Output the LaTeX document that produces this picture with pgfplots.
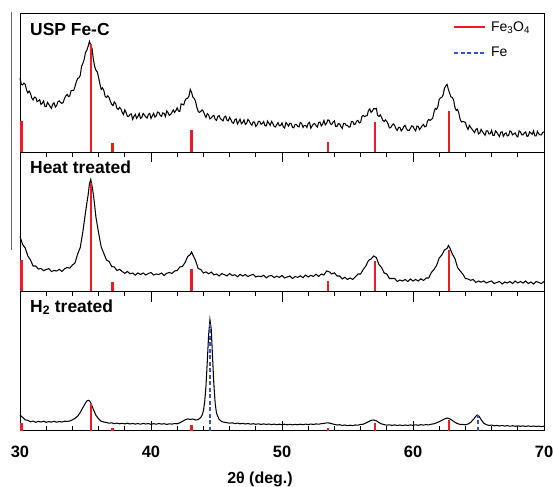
\documentclass[border=0pt]{standalone}
\usepackage{fontspec}
\setmainfont{Liberation Sans}
\usepackage{pgfplots}
\pgfplotsset{compat=1.18}
\definecolor{fered}{RGB}{236,28,36}
\definecolor{feblue}{RGB}{55,80,205}
\pgfplotsset{xrdpanel/.style={scale only axis, width=524bp, height=139.1bp,
  xmin=30, xmax=70, ymin=0, ymax=139.1, ytick=\empty,
  xtick={30,40,50,60,70}, minor x tick num=4, tick align=inside,
  major tick length=10bp, minor tick length=4.5bp,
  axis line style={line width=1pt}, clip=false,
  major tick style={black, line width=1pt}, minor tick style={black, line width=0.9pt},
  /pgf/number format/assume math mode=true,
  ticklabel style={font=\bfseries\fontsize{16.5}{16.5}\selectfont},
  legend image code/.code={\draw[##1] (0bp,0bp) -- (31bp,0bp);}}}
\begin{document}
\begin{tikzpicture}
\path[use as bounding box] (-20bp,-56.3bp) rectangle (534bp,430.6bp);
\draw[black!60, line width=0.8bp] (-9bp,180.6bp) -- (-9bp,418.6bp);
% ---------- Panel 1 ----------
\begin{axis}[xrdpanel, at={(0bp,278.2bp)}, anchor=south west, xtick=\empty,
  legend style={draw=none, fill=none, at={(rel axis cs:0.826,0.955)}, anchor=north west,
    font=\fontsize{14}{14}\selectfont, row sep=10bp, column sep=3bp, inner sep=0pt}, legend cell align=left]
\addplot[black, line width=1.05pt, forget plot] coordinates {
(30.0,74) (30.1,68.3) (30.2,67.5) (30.3,69.3) (30.4,68) (30.5,62.3) (30.6,59.5) (30.7,61.3) (30.8,59) (30.9,54.3)
(31.0,52.5) (31.1,55.3) (31.2,55) (31.3,50.8) (31.4,51.5) (31.5,52.8) (31.6,48) (31.7,49.3) (31.8,51.5) (31.9,45.8)
(32.0,46) (32.1,50) (32.2,48) (32.3,46) (32.4,44) (32.5,48.3) (32.6,49.5) (32.7,45.3) (32.8,47) (32.9,50.8)
(33.0,51.5) (33.1,49.8) (33.2,49) (33.3,50) (33.4,54) (33.5,56.5) (33.6,58) (33.7,55.8) (33.8,56.5) (33.9,61.8)
(34.0,62) (34.1,62) (34.2,66) (34.3,70.5) (34.4,74) (34.5,74.5) (34.6,77) (34.7,86) (34.8,89) (34.9,93)
(35.0,100) (35.1,102) (35.2,106) (35.3,111) (35.4,107) (35.5,104) (35.6,93) (35.7,86) (35.8,82) (35.9,80.5)
(36.0,75) (36.1,68.5) (36.2,63) (36.3,64.5) (36.4,62) (36.5,56) (36.6,55) (36.7,56.5) (36.8,55) (36.9,51)
(37.0,48) (37.1,46.8) (37.2,50.5) (37.3,48.8) (37.4,44) (37.5,43) (37.6,45) (37.7,43.5) (37.8,40) (37.9,37.8)
(38.0,42.5) (38.1,39.8) (38.2,36) (38.3,36) (38.4,38) (38.5,38.5) (38.6,33) (38.7,36) (38.8,38) (38.9,34)
(39.0,36) (39.1,39) (39.2,34) (39.3,35) (39.4,39) (39.5,37.3) (39.6,35.5) (39.7,34.3) (39.8,38) (39.9,39)
(40.0,34) (40.1,36.5) (40.2,39) (40.3,35.3) (40.4,36.5) (40.5,40.3) (40.6,40) (40.7,37) (40.8,36) (40.9,39.5)
(41.0,39) (41.1,35.8) (41.2,41.5) (41.3,39.8) (41.4,37) (41.5,38) (41.6,40) (41.7,42.5) (41.8,40) (41.9,41.8)
(42.0,44.5) (42.1,41.3) (42.2,41) (42.3,48.5) (42.4,48) (42.5,47.5) (42.6,52) (42.7,54) (42.8,54) (42.9,56.5)
(43.0,63) (43.1,60) (43.2,55) (43.3,54) (43.4,51) (43.5,45) (43.6,41) (43.7,40) (43.8,41) (43.9,42.5)
(44.0,41) (44.1,37.5) (44.2,35) (44.3,38.8) (44.4,37.5) (44.5,33.5) (44.6,34.5) (44.7,36.3) (44.8,37) (44.9,33)
(45.0,32) (45.1,35.9) (45.2,36.8) (45.3,33.7) (45.4,32.6) (45.5,31.5) (45.6,35.4) (45.7,36.3) (45.8,32.2) (45.9,31.6)
(46.0,35) (46.1,32.9) (46.2,29.8) (46.3,29.2) (46.4,32.6) (46.5,33.5) (46.6,28.4) (46.7,30.8) (46.8,33.2) (46.9,28.6)
(47.0,30) (47.1,32.5) (47.2,28) (47.3,29) (47.4,33) (47.5,31.4) (47.6,28.8) (47.7,27.2) (47.8,30.5) (47.9,30.3)
(48.0,26) (48.1,27.5) (48.2,31) (48.3,31) (48.4,28) (48.5,28.9) (48.6,30.8) (48.7,26.7) (48.8,26.5) (48.9,31.3)
(49.0,29) (49.1,27) (49.2,31) (49.3,29) (49.4,26) (49.5,25.4) (49.6,27.8) (49.7,29.7) (49.8,26.6) (49.9,27)
(50.0,29.5) (50.1,25.5) (50.2,24.4) (50.3,29.9) (50.4,28.3) (50.5,26.3) (50.6,29.2) (50.7,28.7) (50.8,25.1) (50.9,24.6)
(51.0,28) (51.1,28) (51.2,26) (51.3,25.5) (51.4,30) (51.5,29) (51.6,25) (51.7,27) (51.8,27) (51.9,25)
(52.0,29) (52.1,30.1) (52.2,24.2) (52.3,26.4) (52.4,28.5) (52.5,28.7) (52.6,26.8) (52.7,25.4) (52.8,30) (52.9,30.3)
(53.0,26.5) (53.1,28.3) (53.2,32) (53.3,27.5) (53.4,29) (53.5,32.5) (53.6,32) (53.7,28.5) (53.8,28) (53.9,30.3)
(54.0,31.5) (54.1,25.8) (54.2,26) (54.3,28.8) (54.4,28.5) (54.5,25.8) (54.6,24) (54.7,29) (54.8,29) (54.9,27)
(55.0,27) (55.1,25.3) (55.2,25.5) (55.3,30.8) (55.4,31) (55.5,27.8) (55.6,28.5) (55.7,31.3) (55.8,32) (55.9,29.5)
(56.0,30) (56.1,36) (56.2,37) (56.3,35.8) (56.4,36.5) (56.5,36.8) (56.6,42) (56.7,43.5) (56.8,40) (56.9,41.5)
(57.0,44) (57.1,43.5) (57.2,44) (57.3,37) (57.4,36) (57.5,37.5) (57.6,35) (57.7,32) (57.8,31) (57.9,32.5)
(58.0,31) (58.1,28.3) (58.2,24.5) (58.3,24.8) (58.4,27) (58.5,28.5) (58.6,27) (58.7,23.5) (58.8,22) (58.9,25)
(59.0,25) (59.1,21.5) (59.2,23) (59.3,26) (59.4,27) (59.5,23.5) (59.6,22) (59.7,22) (59.8,24) (59.9,26.5)
(60.0,26) (60.1,23.3) (60.2,21.5) (60.3,26.3) (60.4,26) (60.5,22.8) (60.6,24.5) (60.7,26.8) (60.8,28) (60.9,25.5)
(61.0,26) (61.1,31) (61.2,33) (61.3,32) (61.4,33) (61.5,34) (61.6,40) (61.7,44) (61.8,43) (61.9,46)
(62.0,53) (62.1,54.5) (62.2,55) (62.3,57.5) (62.4,64) (62.5,66.5) (62.6,68) (62.7,63) (62.8,59) (62.9,55.5)
(63.0,55) (63.1,52.5) (63.2,45) (63.3,42) (63.4,43) (63.5,39) (63.6,33) (63.7,30.5) (63.8,31) (63.9,30.5)
(64.0,30) (64.1,25.5) (64.2,23) (64.3,27) (64.4,25) (64.5,23.3) (64.6,21.5) (64.7,19.8) (64.8,23) (64.9,23.8)
(65.0,18.5) (65.1,19.3) (65.2,23) (65.3,20.9) (65.4,18.8) (65.5,17.2) (65.6,21.6) (65.7,21.5) (65.8,18.4) (65.9,18.7)
(66.0,22) (66.1,17) (66.2,17) (66.3,21.5) (66.4,20) (66.5,17.9) (66.6,15.8) (66.7,20.2) (66.8,20.6) (66.9,16.1)
(67.0,18.5) (67.1,19.5) (67.2,16.5) (67.3,17) (67.4,21.5) (67.5,20.5) (67.6,17.5) (67.7,18.5) (67.8,19.5) (67.9,16.5)
(68.0,15.5) (68.1,21.5) (68.2,20.5) (68.3,17.5) (68.4,17.5) (68.5,19.5) (68.6,20.5) (68.7,16) (68.8,16.5) (68.9,20.5)
(69.0,19.5) (69.1,18) (69.2,21.5) (69.3,16.5) (69.4,16.5) (69.5,21) (69.6,18.5) (69.7,17.5) (69.8,17.5) (69.9,20)
(70.0,20.5)};
\addplot[ycomb, fered, line width=2.4pt, forget plot] coordinates {
(30.1,31) (35.4,108) (37.05,9) (43.1,22.5) (53.5,10) (57.1,30) (62.75,41)};
\addlegendimage{fered, line width=2pt}
\addlegendentry{Fe\textsubscript{3}O\textsubscript{4}}
\addlegendimage{feblue, dash pattern=on 4bp off 2.5bp, line width=2pt}
\addlegendentry{Fe}
\node[anchor=base west, inner sep=0, font=\bfseries\fontsize{17.5}{17.5}\selectfont, xshift=10bp, yshift=-22.5bp] at (rel axis cs:0,1) {USP Fe-C};
\end{axis}
% ---------- Panel 2 ----------
\begin{axis}[xrdpanel, at={(0bp,139.1bp)}, anchor=south west, xtick pos=right, xticklabels={}]
\addplot[black, line width=1.05pt] coordinates {
(30.0,55) (30.2,47) (30.4,43.5) (30.6,35.5) (30.8,31.5) (31.0,25.5) (31.2,25.5) (31.4,22.5) (31.6,23) (31.8,20.8)
(32.0,22) (32.2,22.8) (32.4,20) (32.6,21) (32.8,20.5) (33.0,22.2) (33.2,20) (33.4,22.7) (33.6,24) (33.8,23.3)
(34.0,26.5) (34.2,28.5) (34.4,37.5) (34.6,44) (34.8,60) (35.0,79) (35.1,88) (35.2,96.5) (35.3,107.5) (35.4,112)
(35.5,105.5) (35.6,97) (35.7,86) (35.8,74) (36.0,58.5) (36.2,44.5) (36.4,38) (36.6,31.5) (36.8,30) (37.0,25)
(37.2,24.5) (37.4,21) (37.6,22.2) (37.8,20) (38.0,18.2) (38.2,20) (38.4,17.7) (38.6,18.5) (38.8,16.3) (39.0,18.5)
(39.2,17) (39.4,18.5) (39.6,16.5) (39.8,18) (40.0,19) (40.2,16.5) (40.4,17.5) (40.6,17) (40.8,18.5) (41.0,16)
(41.2,18.2) (41.4,19) (41.6,18) (41.8,20.5) (42.0,21) (42.2,24.5) (42.4,25) (42.6,29) (42.8,35) (43.0,37)
(43.1,39.5) (43.2,36.5) (43.4,31) (43.6,23) (43.8,22) (44.0,18.5) (44.2,19.6) (44.4,17.7) (44.6,19.4) (44.8,16.6)
(45.0,17.5) (45.2,15.5) (45.4,17.9) (45.6,16.8) (45.8,15.6) (46.0,18) (46.2,15.9) (46.4,16.8) (46.6,14.7) (46.8,17.1)
(47.0,15.5) (47.2,17) (47.4,14.9) (47.6,16.3) (47.8,17.1) (48.0,14.5) (48.2,15.4) (48.4,14.8) (48.6,16.2) (48.8,13.6)
(49.0,15.5) (49.2,16) (49.4,13.9) (49.6,15.3) (49.8,14.1) (50.0,16) (50.2,13.5) (50.4,14.5) (50.6,15.5) (50.8,13)
(51.0,15) (51.2,14.1) (51.4,15.7) (51.6,13.8) (51.8,16.4) (52.0,14.5) (52.2,16.2) (52.4,15) (52.6,17.3) (52.8,15)
(53.0,17.5) (53.2,16.5) (53.4,20.5) (53.6,19.8) (53.8,17.5) (54.0,18.7) (54.2,15.5) (54.4,15.5) (54.6,12.5) (54.8,14.2)
(55.0,12) (55.2,13.5) (55.4,12) (55.6,14.7) (55.8,17.5) (56.0,17.5) (56.2,22) (56.4,25.5) (56.6,31) (56.8,32.5)
(57.0,35.5) (57.2,34) (57.4,27) (57.6,24) (57.8,18.5) (58.0,17.5) (58.2,13) (58.4,13) (58.6,13) (58.8,10)
(59.0,11.5) (59.2,10.5) (59.4,12) (59.6,10) (59.8,12.5) (60.0,10.5) (60.2,12) (60.4,10.5) (60.6,12.7) (60.8,11)
(61.0,13.5) (61.2,13.5) (61.4,19) (61.6,22) (61.8,26) (62.0,33.5) (62.2,36.5) (62.4,41.5) (62.6,43) (62.7,46)
(62.8,44) (63.0,37.5) (63.2,33) (63.4,24) (63.6,20.5) (63.8,17.5) (64.0,13) (64.2,12.5) (64.4,11.2) (64.6,12)
(64.8,9) (65.0,10.5) (65.2,9.3) (65.4,10.6) (65.6,8.4) (65.8,9.7) (66.0,10.5) (66.2,8) (66.4,9) (66.6,10)
(66.8,7.5) (67.0,9.5) (67.2,8.5) (67.4,10) (67.6,8) (67.8,10.5) (68.0,8.5) (68.2,10) (68.4,8.5) (68.6,10.5)
(68.8,8) (69.0,9.5) (69.2,7.5) (69.4,10) (69.6,9) (69.8,8) (70.0,10)};
\addplot[ycomb, fered, line width=2.4pt] coordinates {
(30.1,31) (35.4,108) (37.05,9) (43.1,22.5) (53.5,10) (57.1,30) (62.75,41)};
\node[anchor=base west, inner sep=0, font=\bfseries\fontsize{17.5}{17.5}\selectfont, xshift=10bp, yshift=-21.6bp] at (rel axis cs:0,1) {Heat treated};
\end{axis}
% ---------- Panel 3 ----------
\begin{axis}[xrdpanel, at={(0bp,0bp)}, anchor=south west, xtick pos=both, xticklabel pos=lower,
  xticklabel style={anchor=base, yshift=-27bp},
  xlabel={2θ (deg.)}, xlabel style={font=\bfseries\fontsize{16}{16}\selectfont, at={(axis description cs:0.458,0)}, anchor=base, yshift=-53bp}]
\addplot[black, line width=1.05pt] coordinates {
(30.0,15.5) (30.2,13.3) (30.4,10.7) (30.6,10.3) (30.8,8.8) (31.0,9.5) (31.2,8.3) (31.4,9.2) (31.6,8.6) (31.8,9.4)
(32.0,8.3) (32.2,9) (32.4,8.5) (32.6,9.3) (32.8,8.4) (33.0,9.1) (33.2,8.6) (33.4,9.4) (33.6,9.2) (33.8,9.6)
(34.0,10.8) (34.2,12.3) (34.4,14.4) (34.6,18.2) (34.8,23) (35.0,27.6) (35.1,29.5) (35.2,30.3) (35.3,29.8) (35.4,27.7)
(35.6,21.3) (35.8,15.2) (36.0,11.8) (36.2,9.3) (36.4,8.6) (36.6,8.1) (36.8,7.4) (37.0,7.8) (37.2,6.9) (37.4,7.5)
(37.6,6.8) (37.8,7.3) (38.0,6.7) (38.2,7.4) (38.4,6.6) (38.6,7.2) (38.8,6.5) (39.0,7.1) (39.2,6.4) (39.4,7.2)
(39.6,6.6) (39.8,7) (40.0,6.3) (40.2,6.9) (40.4,6.4) (40.6,7.1) (40.8,6.5) (41.0,6.9) (41.2,6.2) (41.4,6.8)
(41.6,6.5) (41.8,7) (42.0,6.8) (42.2,7.8) (42.4,9.2) (42.6,10.8) (42.8,11.7) (43.0,11.2) (43.2,11.6) (43.4,10.6)
(43.6,11) (43.8,13.2) (43.9,15.5) (44.0,19.5) (44.1,29) (44.2,45) (44.3,70) (44.4,96) (44.5,111) (44.6,101)
(44.7,73) (44.8,46) (44.9,27) (45.0,17.5) (45.2,11.2) (45.4,9) (45.6,8.3) (45.8,7.9) (46.0,7.4) (46.2,7.8)
(46.4,7) (46.6,7.5) (46.8,6.8) (47.0,7.2) (47.2,6.6) (47.4,7.1) (47.6,6.4) (47.8,6.9) (48.0,6.3) (48.2,6.8)
(48.4,6.2) (48.6,6.7) (48.8,6.1) (49.0,6.6) (49.2,6) (49.4,6.5) (49.6,5.9) (49.8,6.4) (50.0,5.8) (50.2,6.4)
(50.4,5.8) (50.6,6.3) (50.8,5.7) (51.0,6.3) (51.2,5.8) (51.4,6.4) (51.6,5.9) (51.8,6.5) (52.0,6) (52.2,6.6)
(52.4,6.1) (52.6,6.7) (52.8,6.4) (53.0,6.9) (53.2,7.2) (53.4,7.7) (53.6,7.6) (53.8,6.9) (54.0,6.2) (54.2,5.6)
(54.4,5.9) (54.6,5.2) (54.8,5.6) (55.0,4.9) (55.2,5.4) (55.4,5) (55.6,5.6) (55.8,5.5) (56.0,6.1) (56.2,6.4)
(56.4,7.6) (56.6,8.9) (56.8,10.3) (57.0,10.6) (57.2,9.8) (57.4,8) (57.6,6.7) (57.8,6) (58.0,5.4) (58.2,5.8)
(58.4,5.2) (58.6,5.7) (58.8,5.1) (59.0,5.6) (59.2,5) (59.4,5.6) (59.6,5.1) (59.8,5.7) (60.0,5.2) (60.2,5.8)
(60.4,5.3) (60.6,5.9) (60.8,5.5) (61.0,6) (61.2,5.7) (61.4,6.4) (61.6,6.8) (61.8,7.8) (62.0,8.9) (62.2,10.3)
(62.4,11.6) (62.6,12.6) (62.8,11.8) (63.0,10.2) (63.2,8.3) (63.4,7) (63.6,6.1) (63.8,6.2) (64.0,5.8) (64.2,6.6)
(64.4,8.2) (64.6,11) (64.8,14.4) (64.9,15.6) (65.0,15) (65.1,13.2) (65.2,11) (65.4,7.4) (65.6,5.9) (65.8,5.2)
(66.0,5.5) (66.2,4.8) (66.4,5.2) (66.6,4.6) (66.8,5.1) (67.0,4.5) (67.2,5) (67.4,4.4) (67.6,4.9) (67.8,4.3)
(68.0,4.8) (68.2,4.3) (68.4,4.7) (68.6,4.2) (68.8,4.7) (69.0,4.1) (69.2,4.6) (69.4,4.1) (69.6,4.5) (69.8,4)
(70.0,4.4)};
\addplot[ycomb, fered, line width=2.4pt] coordinates {
(30.1,8) (35.4,27.3) (37.05,3) (43.1,5.7) (53.5,3) (57.1,8) (62.75,10.7)};
\addplot[ycomb, feblue, dash pattern=on 4bp off 2.5bp, line width=2.4pt] coordinates {
(44.5,107) (64.95,15.7)};
\node[anchor=base west, inner sep=0, font=\bfseries\fontsize{17.5}{17.5}\selectfont, xshift=10bp, yshift=-20.7bp] at (rel axis cs:0,1) {H\textsubscript{2} treated};
\end{axis}
\end{tikzpicture}
\end{document}
